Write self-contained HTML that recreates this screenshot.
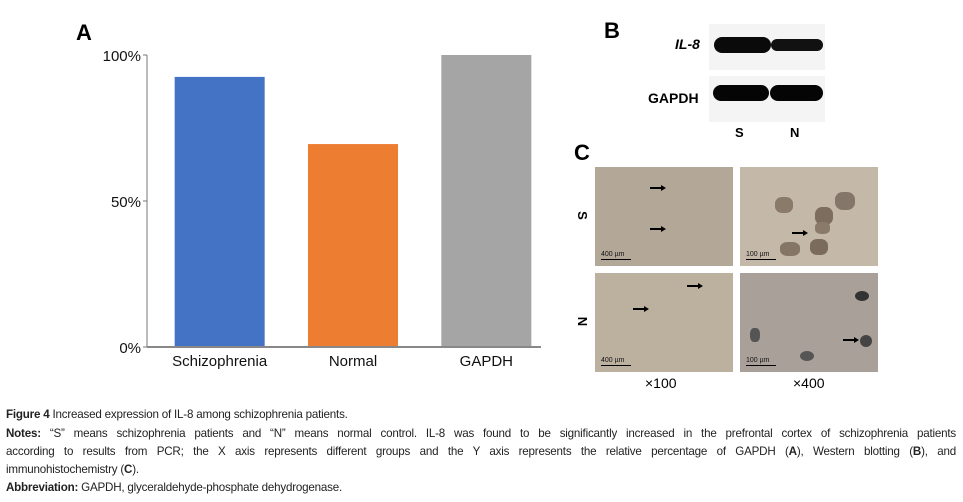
<!DOCTYPE html>
<html><head><meta charset="utf-8"><style>
body{margin:0;width:963px;height:502px;background:#fff;font-family:"Liberation Sans",sans-serif;position:relative;overflow:hidden}
.abs{position:absolute}
.cap{position:absolute;left:6px;width:950px;font-size:11.6px;color:#222;line-height:18px;text-align:justify;text-align-last:justify;letter-spacing:-0.2px;white-space:nowrap}
.cap.l{text-align-last:left}
.micro{position:absolute;overflow:hidden}
.bar{position:absolute;left:6px;bottom:6px;font-size:7px;color:#111}
.bar i{display:block;width:30px;border-top:1.5px solid #000;margin-top:1px}
.arrow{position:absolute;height:1.5px;background:#000;width:12px}
.arrow:after{content:"";position:absolute;right:-4px;top:-2.5px;border-left:5px solid #000;border-top:3px solid transparent;border-bottom:3px solid transparent}
</style></head><body>
<div class="abs" style="left:76px;top:20px;font-size:22px;font-weight:bold">A</div>
<svg class="abs" style="left:0;top:0" width="560" height="380">
<g id="g"></g></svg>
<script>
const categories=["Schizophrenia","Normal","GAPDH"];
const values=[92.5,69.5,100];
const colors=["#4472c4","#ed7d31","#a5a5a5"];
const ticks=[0,50,100];
const tickLabels=["0%","50%","100%"];
const ns="http://www.w3.org/2000/svg",g=document.getElementById("g");
const y0=347,y1=55,xL=147,xR=541,bandL=153,bandR=553;
function yScale(v){return y0-(y0-y1)*v/100;}
function xCenter(i){return bandL+(bandR-bandL)*(i+0.5)/categories.length;}
function mk(t,a){const e=document.createElementNS(ns,t);for(const k in a)e.setAttribute(k,a[k]);g.appendChild(e);return e;}
categories.forEach((c,i)=>{
 const w=90,top=yScale(values[i]);
 const r=mk("rect",{x:xCenter(i)-w/2,y:top,width:w,height:y0-top,fill:colors[i]});
 
 
 const t=mk("text",{x:xCenter(i),y:y0+19,"text-anchor":"middle","font-size":"15",fill:"#111"});
 t.textContent=c;
 
 
});
ticks.forEach((v,i)=>{
 mk("line",{x1:xL-4,x2:xL,y1:yScale(v),y2:yScale(v),stroke:"#777"});
 const t=mk("text",{x:xL-6,y:yScale(v)+6,"text-anchor":"end","font-size":"15",fill:"#111"});
 t.textContent=tickLabels[i];
 
 
});
const ax=mk("line",{x1:xL,x2:xL,y1:y1,y2:y0,stroke:"#777"});


const bx=mk("line",{x1:xL,x2:xR,y1:y0,y2:y0,stroke:"#888","stroke-width":"2"});


</script>

<div class="abs" style="left:604px;top:18px;font-size:22px;font-weight:bold">B</div>
<div class="abs" style="left:675px;top:36px;font-size:14px;font-weight:bold;font-style:italic">IL-8</div>
<div class="abs" style="left:648px;top:90px;font-size:14px;font-weight:bold">GAPDH</div>
<div class="abs" style="left:709px;top:24px;width:116px;height:46px;background:#f4f4f4">
 <div class="abs" style="left:5px;top:13px;width:57px;height:16px;background:#0a0a0a;border-radius:8px"></div>
 <div class="abs" style="left:62px;top:15px;width:52px;height:12px;background:#111;border-radius:6px"></div></div>
<div class="abs" style="left:709px;top:76px;width:116px;height:46px;background:#f4f4f4">
 <div class="abs" style="left:4px;top:9px;width:56px;height:16px;background:#050505;border-radius:8px"></div>
 <div class="abs" style="left:61px;top:9px;width:53px;height:16px;background:#050505;border-radius:8px"></div></div>
<div class="abs" style="left:735px;top:125px;font-size:13px;font-weight:bold">S</div>
<div class="abs" style="left:790px;top:125px;font-size:13px;font-weight:bold">N</div>

<div class="abs" style="left:574px;top:140px;font-size:22px;font-weight:bold">C</div>
<div class="abs" style="left:578px;top:208px;font-size:13px;font-weight:bold;transform:rotate(90deg)">S</div>
<div class="abs" style="left:578px;top:314px;font-size:13px;font-weight:bold;transform:rotate(90deg)">N</div>
<div class="micro" style="left:595px;top:167px;width:138px;height:99px;background:#b3a898">
 <div class="arrow" style="left:55px;top:20px"></div><div class="arrow" style="left:55px;top:61px"></div>
 <div class="bar">400 µm<i></i></div></div>
<div class="micro" style="left:740px;top:167px;width:138px;height:99px;background:#c4b8a8">
 <div class="abs" style="left:35px;top:30px;width:18px;height:16px;background:#8a7a6a;border-radius:40%"></div>
 <div class="abs" style="left:75px;top:40px;width:18px;height:18px;background:#7d6d5e;border-radius:40%"></div>
 <div class="abs" style="left:95px;top:25px;width:20px;height:18px;background:#85766a;border-radius:40%"></div>
 <div class="abs" style="left:40px;top:75px;width:20px;height:14px;background:#857565;border-radius:40%"></div>
 <div class="abs" style="left:70px;top:72px;width:18px;height:16px;background:#7a6b5d;border-radius:40%"></div>
 <div class="abs" style="left:75px;top:55px;width:15px;height:12px;background:#8a7a6a;border-radius:40%"></div>
 <div class="arrow" style="left:52px;top:65px"></div>
 <div class="bar">100 µm<i></i></div></div>
<div class="micro" style="left:595px;top:273px;width:138px;height:99px;background:#bcb09f">
 <div class="arrow" style="left:92px;top:12px"></div><div class="arrow" style="left:38px;top:35px"></div>
 <div class="bar">400 µm<i></i></div></div>
<div class="micro" style="left:740px;top:273px;width:138px;height:99px;background:#a9a09a">
 <div class="abs" style="left:10px;top:55px;width:10px;height:14px;background:#555;border-radius:40%"></div>
 <div class="abs" style="left:115px;top:18px;width:14px;height:10px;background:#333;border-radius:50%"></div>
 <div class="abs" style="left:120px;top:62px;width:12px;height:12px;background:#444;border-radius:50%"></div>
 <div class="abs" style="left:60px;top:78px;width:14px;height:10px;background:#555;border-radius:50%"></div>
 <div class="arrow" style="left:103px;top:66px"></div>
 <div class="bar">100 µm<i></i></div></div>
<div class="abs" style="left:645px;top:375px;font-size:14px">×100</div>
<div class="abs" style="left:793px;top:375px;font-size:14px">×400</div>

<div class="cap l" style="top:406px"><b>Figure 4</b> Increased expression of IL-8 among schizophrenia patients.</div>
<div>
<div class="cap" style="top:425px"><b>Notes:</b> “S” means schizophrenia patients and “N” means normal control. IL-8 was found to be significantly increased in the prefrontal cortex of schizophrenia patients</div>
<div class="cap" style="top:443px">according to results from PCR; the X axis represents different groups and the Y axis represents the relative percentage of GAPDH (<b>A</b>), Western blotting (<b>B</b>), and</div>
<div class="cap l" style="top:461px">immunohistochemistry (<b>C</b>).</div>
</div>
<div class="cap l" style="top:479px"><b>Abbreviation:</b> GAPDH, glyceraldehyde-phosphate dehydrogenase.</div>
</body></html>
